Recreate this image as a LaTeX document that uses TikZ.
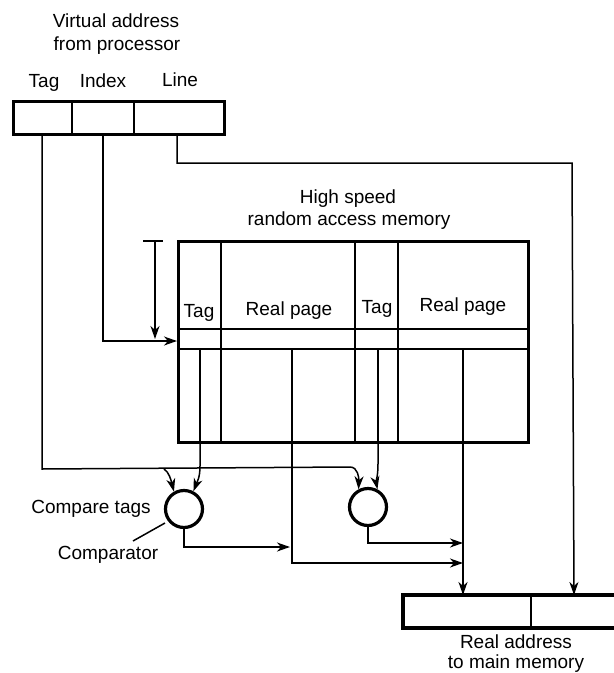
\documentclass[tikz,border=0pt]{standalone}
\usepackage{fontspec}
\setmainfont{Liberation Sans}
\usetikzlibrary{arrows.meta}
\begin{document}
\begin{tikzpicture}[x=1pt,y=-1pt,
  thinline/.style={line width=1.5pt},
  thickline/.style={line width=3.2pt},
  arr/.style={thinline,-{Stealth[length=13pt,width=9pt,inset=4pt]}},
  lbl/.style={font=\fontsize{19}{22}\selectfont, inner sep=0pt, anchor=base},
  reg/.style={draw, thickline, inner sep=0pt, anchor=north west},
  cmp/.style={draw, circle, thickline, minimum size=37pt, inner sep=0pt}]
\useasboundingbox (0,0) rectangle (614,673);

% texts
\node[lbl] (t1) at (116,27) {Virtual address};
\node[lbl] (t2) at (117,50) {from processor};
\node[lbl] (ltag) at (44,87) {Tag};
\node[lbl] (lidx) at (103,87) {Index};
\node[lbl] (lline) at (180,86) {Line};
\node[lbl] (t3) at (348,203) {High speed};
\node[lbl] (t4) at (349,225) {random access memory};
\node[lbl] (h1) at (199,317) {Tag};
\node[lbl] (h2) at (289,315) {Real page};
\node[lbl] (h3) at (377,313) {Tag};
\node[lbl] (h4) at (463,311) {Real page};
\node[lbl] (ct) at (91,513) {Compare tags};
\node[lbl] (cp) at (108,559) {Comparator};
\node[lbl] (r1) at (516,648) {Real address};
\node[lbl] (r2) at (516,668) {to main memory};

% virtual address register
\node[reg, minimum width=211pt, minimum height=33pt] (va) at (12,100) {};
\draw[thinline] (72,100) -- (72,133) (134,100) -- (134,133);

% memory
\node[reg, minimum width=350pt, minimum height=201pt] (mem) at (177,240) {};
\draw[thinline] (177,329) -- (527,329) (177,349) -- (527,349);
\draw[thinline] (221,240) -- (221,441) (355,240) -- (355,441) (398,240) -- (398,441);
\draw[thinline] (200,349) -- (200,441) (292,349) -- (292,441) (378,349) -- (378,441) (463,349) -- (463,441);

% comparators
\node[cmp] (cmpL) at (184,509) {};
\node[cmp] (cmpR) at (368,507) {};

% real address register
\draw[thickline] (620,595) -- (403,595) -- (403,628) -- (620,628);
\draw[thinline] (531,595) -- (531,628);
\coordinate (raA) at (463,595);
\coordinate (raB) at (574,595);

% index dimension marker
\draw[thinline] (143,241) -- (163,241);
\draw[arr] (155,241) -- (155,339);

% index line
\draw[arr] (103,133) -- (103,341) -- (mem.west |- 0,341);

% tag line
\draw[thinline] (42,133) -- (42,469) -- (350,467);
\draw[arr] (350,467) .. controls (358,467) and (359,478) .. (cmpR.118);
\draw[arr] (164,469) .. controls (169,472) and (171,480) .. (cmpL.120);

% memory tag columns to comparators
\draw[arr] (200,441) -- (200,466) .. controls (200,478) and (197,482) .. (cmpL.62);
\draw[arr] (378,441) -- (378,464) .. controls (378,476) and (376,482) .. (cmpR.62);

% comparator outputs
\draw[arr] (cmpL.south) -- (184,547) -- (290,547);
\draw[arr] (cmpR.south) -- (368,543) -- (463,543);

% real page paths
\draw[arr] (292,441) -- (292,563) -- (463,563);
\draw[arr] (463,441) -- (raA);

% line field
\draw[arr] (177,133) -- (177,163) -- (572,163) -- (raB);

% leader
\draw[thinline] (133,541) -- (165,523);
\end{tikzpicture}
\end{document}
